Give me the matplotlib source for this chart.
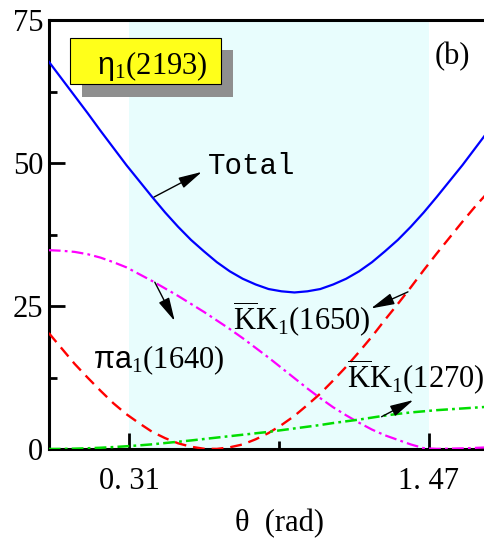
import matplotlib
matplotlib.use('Agg')
import matplotlib.pyplot as plt
from matplotlib.patches import Rectangle

# ---------------- data ----------------
theta = [0.00, 0.05, 0.10, 0.15, 0.20, 0.25, 0.30, 0.35, 0.40, 0.45,
         0.50, 0.55, 0.60, 0.65, 0.70, 0.75, 0.80, 0.85, 0.90, 0.95,
         1.00, 1.05, 1.10, 1.15, 1.20, 1.25, 1.30, 1.35, 1.40, 1.45,
         1.50, 1.55, 1.60, 1.65, 1.70]

total = [67.8, 64.8, 61.8, 58.8, 55.7, 52.7, 49.7, 46.9, 44.1, 41.4,
         38.9, 36.6, 34.6, 32.7, 31.1, 29.8, 28.8, 28.0, 27.6, 27.4,
         27.6, 28.0, 28.8, 29.8, 31.1, 32.7, 34.6, 36.6, 38.9, 41.4,
         44.1, 46.9, 49.7, 52.7, 55.7]

pi_a1_1640 = [34.8, 34.7, 34.5, 34.1, 33.5, 32.7, 31.8, 30.6, 29.4, 28.1,
              26.8, 25.4, 24.0, 22.5, 21.0, 19.4, 17.7, 16.0, 14.2, 12.4,
              10.6, 8.9, 7.3, 5.9, 4.6, 3.4, 2.4, 1.6, 0.8, 0.15,
              0.03, 0.06, 0.12, 0.2, 0.3]

kk1_1650 = [20.3, 17.6, 14.9, 12.5, 10.2, 8.0, 6.1, 4.5, 3.0, 1.9,
            1.0, 0.4, 0.05, 0.02, 0.3, 0.8, 1.7, 2.8, 4.2, 5.8,
            7.7, 9.7, 12.0, 14.4, 17.0, 19.7, 22.6, 25.4, 28.3, 31.3,
            34.2, 37.0, 39.8, 42.5, 45.0]

kk1_1270 = [0.0, 0.02, 0.06, 0.13, 0.22, 0.34, 0.48, 0.64, 0.82, 1.05,
            1.27, 1.5, 1.75, 2.0, 2.25, 2.5, 2.75, 3.0, 3.3, 3.6,
            3.9, 4.2, 4.55, 4.85, 5.15, 5.5, 5.85, 6.15, 6.4, 6.6,
            6.8, 6.95, 7.1, 7.25, 7.4]

band = [0.31, 1.47]
xticks_major = [0.31, 1.47]
xtick_labels = ['0. 31', '1. 47']
xticks_minor = [0.89]
yticks_major = [0, 25, 50, 75]
yticks_minor = [12.5, 37.5, 62.5]

# ---------------- style ----------------
plt.rcParams['font.family'] = ['Liberation Serif', 'DejaVu Serif']
plt.rcParams['mathtext.fontset'] = 'custom'
plt.rcParams['mathtext.rm'] = 'Liberation Serif'
plt.rcParams['mathtext.sf'] = 'Liberation Sans'
plt.rcParams['mathtext.it'] = 'Liberation Serif:italic'
plt.rcParams['lines.scale_dashes'] = False

fig = plt.figure(figsize=(4.85, 5.38), dpi=100)
ax = fig.add_axes([0.1006, 0.1654, 0.8994, 0.7965])

ax.axvspan(band[0], band[1], color='#e8fdfd', lw=0, zorder=0)

ax.plot(theta, total, color='#0000ff', lw=1.6, zorder=3)
ax.plot(theta, kk1_1650, color='#ff0000', lw=1.7, ls=(0, (8.5, 5.0)), zorder=3)
ax.plot(theta, pi_a1_1640, color='#ff00ff', lw=1.6,
        ls=(0, (8.5, 3.0, 2.0, 3.0)), zorder=3)
ax.plot(theta, kk1_1270, color='#00dd00', lw=1.8,
        ls=(0, (8.5, 3.0, 2.0, 3.0)), zorder=3)

ax.set_xlim(0, 1.687)
ax.set_ylim(0, 75)

for s in ['left', 'bottom', 'top']:
    ax.spines[s].set_linewidth(2.2)
ax.spines['right'].set_visible(False)

ax.set_xticks(xticks_major)
ax.set_xticklabels(xtick_labels)
ax.set_xticks(xticks_minor, minor=True)
ax.set_yticks(yticks_major)
ax.set_yticks(yticks_minor, minor=True)
ax.tick_params(which='major', direction='in', length=11.5, width=2.0,
               labelsize=22, top=False, right=False)
ax.tick_params(which='minor', direction='in', length=5.5, width=2.0,
               top=False, right=False)
ax.tick_params(axis='x', which='major', pad=13)
ax.tick_params(axis='y', which='major', pad=4)

fig.text(0.577, 0.013, 'θ  (rad)', fontsize=22, ha='center', va='baseline')

# annotations
arrow = dict(arrowstyle='-|>,head_length=0.9,head_width=0.22',
             color='black', lw=1.0, shrinkA=0, shrinkB=0, mutation_scale=16)
ax.annotate('', xy=(0.592, 48.5), xytext=(0.407, 44.1), arrowprops=arrow, zorder=5)
ax.annotate('', xy=(0.487, 22.4), xytext=(0.41, 29.2), arrowprops=arrow, zorder=5)
ax.annotate('', xy=(1.246, 24.6), xytext=(1.389, 27.5), arrowprops=arrow, zorder=5)
ax.annotate('', xy=(1.41, 8.57), xytext=(1.287, 5.65), arrowprops=arrow, zorder=5)

ax.text(0.616, 48.2, 'Total', fontsize=21, family='Liberation Mono',
        ha='left', va='baseline', zorder=6)
ax.text(0.171, 14.2, r'$\mathsf{\pi a}_\mathrm{1}$(1640)', fontsize=22,
        ha='left', va='baseline', zorder=6)
ax.text(0.712, 20.8, r'$\overline{\mathrm{K}}\mathrm{K}_\mathrm{1}$(1650)',
        fontsize=22, ha='left', va='baseline', zorder=6)
ax.text(1.153, 10.6, r'$\overline{\mathrm{K}}\mathrm{K}_\mathrm{1}$(1270)',
        fontsize=22, ha='left', va='baseline', zorder=6, clip_on=False)
ax.text(1.494, 67.3, '(b)', fontsize=22, ha='left', va='baseline', zorder=6)

# eta_1 label box with shadow (figure coordinates)
fig.add_artist(Rectangle((0.169, 0.8197), 0.3114, 0.0873,
                         transform=fig.transFigure, facecolor='#8f8f8f',
                         edgecolor='none', zorder=5))
fig.add_artist(Rectangle((0.1443, 0.8439), 0.3114, 0.0855,
                         transform=fig.transFigure, facecolor='#ffff1a',
                         edgecolor='black', lw=0.8, zorder=6))
fig.text(0.314, 0.8625, r'$\mathsf{\eta}_\mathrm{1}$(2193)', fontsize=22,
         ha='center', va='baseline', zorder=7)

fig.savefig('out.png', dpi=100)
